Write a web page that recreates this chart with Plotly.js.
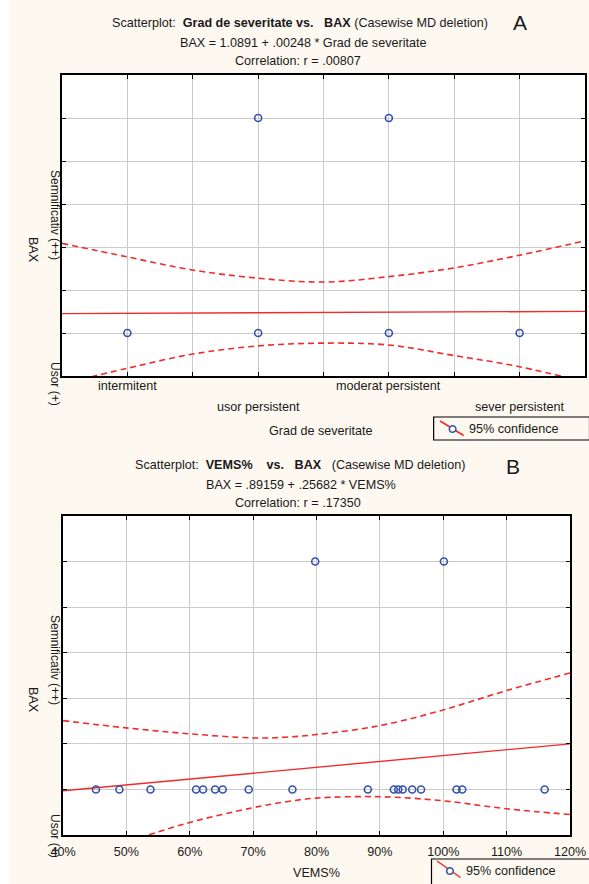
<!DOCTYPE html>
<html><head><meta charset="utf-8">
<script src="https://cdn.plot.ly/plotly-3.0.1.min.js"></script>
<style>
html,body{margin:0;padding:0;background:#fff;width:589px;height:884px;overflow:hidden}
#a{position:absolute;left:9px;top:0;width:580px;height:448px}
#b{position:absolute;left:9px;top:448px;width:580px;height:436px}
</style></head><body><div id="a"></div><div id="b"></div>
<script>
// ---------- DATA: panel A ----------
const severityCategories = ['intermitent','usor persistent','moderat persistent','sever persistent'];
const severityCodes = [1, 2, 3, 4];
const gradX   = [1, 2, 2, 3, 3, 4];
const gradBAX = [1, 1, 2, 1, 2, 1];
const gradFitX = [0.5, 4.5];
const gradFitY = [1.0903, 1.1007];
const gradBandX = [0.5, 1, 1.5, 2, 2.5, 3, 3.5, 4, 4.5];
const gradUpper = [1.417, 1.354, 1.293, 1.255, 1.237, 1.262, 1.303, 1.362, 1.429];
const gradLower = [0.763, 0.836, 0.902, 0.940, 0.953, 0.944, 0.895, 0.843, 0.772];

// ---------- DATA: panel B ----------
const vemsX = [45.2, 48.9, 53.8, 61.0, 62.1, 64.0, 65.2, 69.3, 76.2, 88.1, 92.2, 92.9, 93.6, 95.1, 96.5, 102.1, 103.0, 116.0, 79.8, 100.1];
const vemsBAX = [1, 1, 1, 1, 1, 1, 1, 1, 1, 1, 1, 1, 1, 1, 1, 1, 1, 1, 2, 2];
const vemsFitX = [40, 120];
const vemsFitY = [0.994, 1.200];
const vemsBandX = [40, 50, 60, 70, 75, 80, 90, 100, 110, 120];
const vemsUpper = [1.302, 1.270, 1.244, 1.226, 1.229, 1.241, 1.280, 1.349, 1.434, 1.511];
const vemsLower = [0.686, 0.770, 0.855, 0.920, 0.945, 0.962, 0.968, 0.950, 0.915, 0.890];
const vemsTicks = [40, 50, 60, 70, 80, 90, 100, 110, 120];
const yLevelLabels = ['Semnificativ (++)', 'Usor (+)'];

// ---------- STYLE ----------
const FONT = 'Liberation Sans, Arial, sans-serif';
const FS = 12.6;
const CREAM = '#fdf8f0';
const RED = '#f22a2a';
const BLUE = '#3552b0';
const TXT = '#1a1a1a';

function mk(box){ // box: page coords of plot area
  return function(px, py){ return {x:(px-box.l)/(box.r-box.l), y:(box.b-py)/(box.b-box.t)}; };
}
function ann(P, px, py, text, o){
  o = o || {};
  const p = P(px, py);
  return Object.assign({xref:'paper', yref:'paper', x:p.x, y:p.y, text:text, showarrow:false,
    xanchor:'center', yanchor:'middle', font:{family:FONT, size:FS, color:TXT}}, o);
}
function legendShapes(P, box, line, circ){
  const a = P(box[0], box[1]), b = P(box[2], box[3]);
  const l1 = P(line[0], line[1]), l2 = P(line[2], line[3]);
  const c1 = P(circ[0]-3.3, circ[1]-3.3), c2 = P(circ[0]+3.3, circ[1]+3.3);
  return [
    {type:'rect', xref:'paper', yref:'paper', x0:a.x, y0:a.y, x1:b.x, y1:b.y, line:{color:'#000', width:1.2}},
    {type:'line', xref:'paper', yref:'paper', x0:l1.x, y0:l1.y, x1:l2.x, y1:l2.y, line:{color:RED, width:1.5}},
    {type:'circle', xref:'paper', yref:'paper', x0:c1.x, y0:c1.y, x1:c2.x, y1:c2.y, fillcolor:CREAM, line:{color:BLUE, width:1.5}}
  ];
}
function axisBase(){
  return {showline:true, mirror:'allticks', linecolor:'#000', linewidth:1.8,
    ticks:'inside', ticklen:4, tickcolor:'#000', tickwidth:1,
    showgrid:true, gridcolor:'#cbcbcb', gridwidth:1, zeroline:false};
}
function traces(x, y, fx, fy, bx, bu, bl){
  return [
    {x:bx, y:bu, mode:'lines', line:{color:RED, width:1.6, dash:'6px,4px', shape:'spline'}, hoverinfo:'skip'},
    {x:bx, y:bl, mode:'lines', line:{color:RED, width:1.6, dash:'6px,4px', shape:'spline'}, hoverinfo:'skip'},
    {x:fx, y:fy, mode:'lines', line:{color:RED, width:1.4}},
    {x:x, y:y, mode:'markers', marker:{symbol:'circle-open', size:7, color:BLUE, line:{width:1.6, color:BLUE}}}
  ];
}

// ---------- PANEL A ----------
const boxA = {l:62, r:585.5, t:75, b:376};
const PA = mk(boxA);
const annA = [
  ann(PA, 300, 23, 'Scatterplot:\u00a0 <b>Grad de severitate vs.\u00a0\u00a0 BAX</b> (Casewise MD deletion)'),
  ann(PA, 520, 23, 'A', {font:{family:FONT, size:21, color:TXT}}),
  ann(PA, 303, 43, 'BAX = 1.0891 + .00248 * Grad de severitate'),
  ann(PA, 298, 61, 'Correlation: r = .00807'),
  ann(PA, 321, 431, 'Grad de severitate'),
  ann(PA, 33, 250, 'BAX', {textangle:90}),
  ann(PA, 55, 215, yLevelLabels[0], {textangle:90, font:{family:FONT, size:12, color:TXT}}),
  ann(PA, 55, 384, yLevelLabels[1], {textangle:90, font:{family:FONT, size:12, color:TXT}}),
  ann(PA, 467, 429, '95% confidence', {xanchor:'left'})
];
severityCategories.forEach(function(c, i){
  const p = PA(0, i % 2 === 0 ? 386 : 407);
  annA.push({xref:'x', yref:'paper', x:severityCodes[i], y:p.y, text:c, showarrow:false,
    xanchor:'center', yanchor:'middle', font:{family:FONT, size:FS, color:TXT}});
});
const layoutA = {
  width:580, height:448, margin:{l:53, r:3.5, t:75, b:72},
  paper_bgcolor:CREAM, plot_bgcolor:'#ffffff', showlegend:false,
  xaxis:Object.assign(axisBase(), {range:[0.5,4.5], tickmode:'linear', tick0:0.5, dtick:0.5, showticklabels:false}),
  yaxis:Object.assign(axisBase(), {range:[0.8,2.2], tickmode:'linear', tick0:0.8, dtick:0.2, showticklabels:false}),
  annotations:annA,
  shapes:legendShapes(PA, [434,417,590,440], [440.5,421,464,435.5], [453,429])
};
Plotly.newPlot('a', traces(gradX, gradBAX, gradFitX, gradFitY, gradBandX, gradUpper, gradLower), layoutA, {staticPlot:true});

// ---------- PANEL B ----------
const boxB = {l:63, r:570, t:516, b:835};
const PB = mk(boxB);
const annB = [
  ann(PB, 300, 465, 'Scatterplot:\u00a0 <b>VEMS%\u00a0\u00a0\u00a0 vs.\u00a0\u00a0 BAX</b>\u00a0\u00a0 (Casewise MD deletion)'),
  ann(PB, 513, 466, 'B', {font:{family:FONT, size:21, color:TXT}}),
  ann(PB, 301, 485, 'BAX = .89159 + .25682 * VEMS%'),
  ann(PB, 298, 503, 'Correlation: r = .17350'),
  ann(PB, 316, 873, 'VEMS%'),
  ann(PB, 33, 700, 'BAX', {textangle:90}),
  ann(PB, 55, 660, yLevelLabels[0], {textangle:90, font:{family:FONT, size:12, color:TXT}}),
  ann(PB, 55, 836, yLevelLabels[1], {textangle:90, font:{family:FONT, size:12, color:TXT}}),
  ann(PB, 463.5, 871, '95% confidence', {xanchor:'left'})
];
const layoutB = {
  width:580, height:436, margin:{l:54, r:19, t:68, b:49},
  paper_bgcolor:CREAM, plot_bgcolor:'#ffffff', showlegend:false,
  xaxis:Object.assign(axisBase(), {range:[40,120], tickmode:'array', tickvals:vemsTicks, ticktext:vemsTicks.map(function(v){return v+'%';}),
    tickfont:{family:FONT, size:FS, color:TXT}, ticklabelstandoff:4}),
  yaxis:Object.assign(axisBase(), {range:[0.8,2.2], tickmode:'linear', tick0:0.8, dtick:0.2, showticklabels:false}),
  annotations:annB,
  shapes:legendShapes(PB, [431.5,859,590,890], [437,861,460.5,877.5], [450,871])
};
Plotly.newPlot('b', traces(vemsX, vemsBAX, vemsFitX, vemsFitY, vemsBandX, vemsUpper, vemsLower), layoutB, {staticPlot:true});
</script></body></html>
